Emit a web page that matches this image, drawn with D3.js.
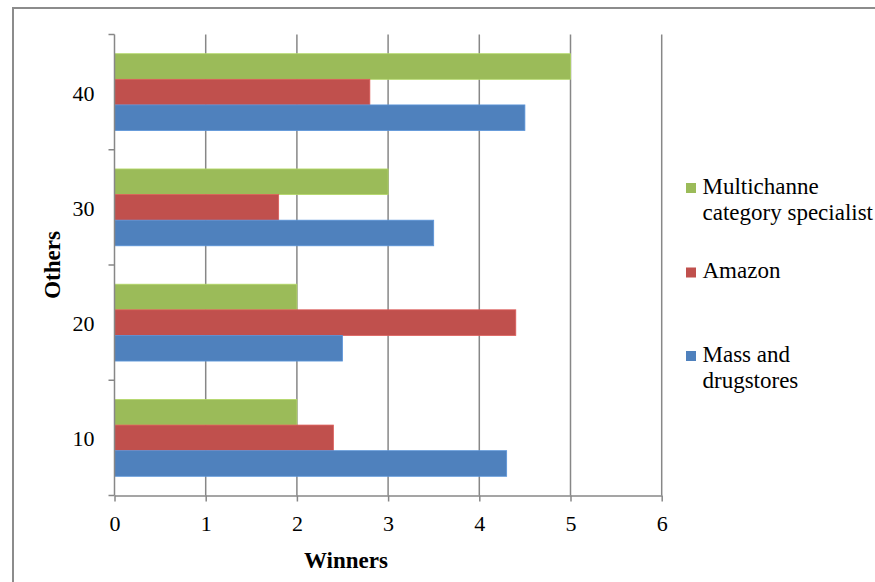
<!DOCTYPE html>
<html>
<head>
<meta charset="utf-8">
<script src="https://cdn.jsdelivr.net/npm/d3@7"></script>
<style>
  html, body { margin: 0; padding: 0; background: #fff; }
  svg { display: block; }
  text, tspan { font-family: "Liberation Serif", "Times New Roman", serif; fill: #000; }
</style>
</head>
<body>
<svg id="chart" width="875" height="582"></svg>
<script>
// Categories (bottom to top on the axis) and series values
const categories = ["10", "20", "30", "40"];
const seriesNames = ["Multichanne\ncategory specialist", "Amazon", "Mass and\ndrugstores"];
const seriesColors = ["#9BBB59", "#C0504D", "#4F81BD"];
const multichannel = [2, 2, 3, 5];
const amazon = [2.4, 4.4, 1.8, 2.8];
const massDrug = [4.3, 2.5, 3.5, 4.5];
const xTicks = [0, 1, 2, 3, 4, 5, 6];

const seriesValues = [multichannel, amazon, massDrug];
const rows = categories.map((c, i) => ({
  cat: c,
  vals: seriesValues.map((s, j) => ({ key: j, value: s[i] }))
}));

const svg = d3.select("#chart");
const gridColor = "#878787";
const serif = "Liberation Serif, Times New Roman, serif";

// Outer frame
svg.append("rect")
  .attr("x", 13).attr("y", 8)
  .attr("width", 900).attr("height", 600)
  .attr("fill", "none")
  .attr("stroke", "#8c8c8c")
  .attr("stroke-width", 2);

const plotLeft = 114.5, plotRight = 661.7, plotTop = 34.5, plotBottom = 495.5;

const x = d3.scaleLinear().domain([0, 6]).range([plotLeft, plotRight]);
const y = d3.scaleBand()
  .domain(categories.slice().reverse())
  .range([plotTop, plotBottom])
  .padding(0);
const inner = d3.scaleBand()
  .domain([0, 1, 2])
  .range([0, y.bandwidth()])
  .paddingInner(0)
  .paddingOuter(0.75);

// Vertical gridlines
svg.append("g")
  .selectAll("line")
  .data(xTicks.filter(t => t > 0))
  .join("line")
  .attr("x1", d => x(d)).attr("x2", d => x(d))
  .attr("y1", plotTop).attr("y2", plotBottom)
  .attr("stroke", gridColor)
  .attr("stroke-width", 1.5);

// Bars
const groups = svg.append("g")
  .selectAll("g")
  .data(rows)
  .join("g")
  .attr("transform", d => `translate(0,${y(d.cat)})`);

groups.selectAll("rect")
  .data(d => d.vals)
  .join("rect")
  .attr("x", x(0))
  .attr("y", d => inner(d.key))
  .attr("width", d => x(d.value) - x(0))
  .attr("height", inner.bandwidth())
  .attr("fill", d => seriesColors[d.key])
  .attr("stroke", d => d3.color(seriesColors[d.key]).brighter(0.4))
  .attr("stroke-width", 0.8);

// X axis
const xAxis = svg.append("g")
  .attr("transform", `translate(0,${plotBottom})`)
  .call(d3.axisBottom(x).tickValues(xTicks).tickFormat(d3.format("d")).tickSizeInner(6).tickSizeOuter(0).tickPadding(14));
xAxis.attr("font-family", serif).attr("font-size", 22);
xAxis.select(".domain").attr("stroke", gridColor).attr("stroke-width", 1.5);
xAxis.selectAll(".tick line").attr("stroke", gridColor).attr("stroke-width", 1.5);
xAxis.selectAll(".tick text").attr("fill", "#000");

// Y axis: ticks at category boundaries, labels at band centres
const yBoundaries = d3.range(categories.length + 1).map(i => plotTop + i * y.bandwidth());
const yAxis = svg.append("g");
yAxis.append("line")
  .attr("x1", plotLeft).attr("x2", plotLeft)
  .attr("y1", plotTop).attr("y2", plotBottom)
  .attr("stroke", gridColor).attr("stroke-width", 1.5);
yAxis.selectAll("line.tk")
  .data(yBoundaries)
  .join("line")
  .attr("class", "tk")
  .attr("x1", plotLeft - 6).attr("x2", plotLeft)
  .attr("y1", d => d).attr("y2", d => d)
  .attr("stroke", gridColor).attr("stroke-width", 1.5);
yAxis.selectAll("text")
  .data(categories)
  .join("text")
  .attr("x", 94.5)
  .attr("y", d => y(d) + y.bandwidth() / 2 + 8.5)
  .attr("text-anchor", "end")
  .attr("font-size", 22)
  .text(d => d);

// Axis titles
svg.append("text")
  .attr("x", 346).attr("y", 568)
  .attr("text-anchor", "middle")
  .attr("font-size", 23)
  .attr("font-weight", "bold")
  .text("Winners");

svg.append("text")
  .attr("transform", "translate(59.5,265) rotate(-90)")
  .attr("text-anchor", "middle")
  .attr("font-size", 23)
  .attr("font-weight", "bold")
  .text("Others");

// Legend
const legendItems = [
  { idx: 0, y: 193.5 },
  { idx: 1, y: 278 },
  { idx: 2, y: 361.5 }
];
const legend = svg.append("g");
legendItems.forEach(it => {
  legend.append("rect")
    .attr("x", 686).attr("y", it.y - 10.5)
    .attr("width", 10).attr("height", 10)
    .attr("fill", seriesColors[it.idx]);
  const lines = seriesNames[it.idx].split("\n");
  const t = legend.append("text")
    .attr("x", 702.5).attr("y", it.y)
    .attr("font-size", 23);
  lines.forEach((ln, k) => {
    t.append("tspan")
      .attr("x", 702.5)
      .attr("dy", k === 0 ? 0 : 26.5)
      .text(ln);
  });
});
</script>
</body>
</html>
